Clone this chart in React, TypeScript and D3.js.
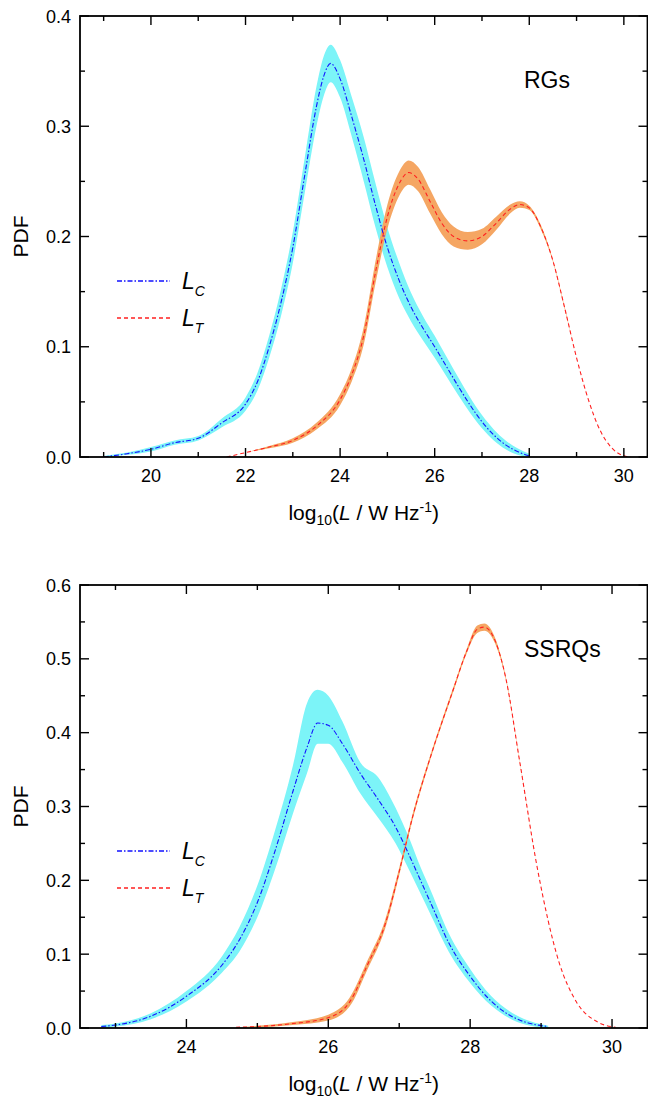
import React from "react";
import * as d3 from "d3";

// ---------- Top panel (RGs) ----------
const rgLcX = [19.0, 19.5, 20.0, 20.5, 21.0, 21.5, 22.0, 22.25, 22.5, 22.75, 23.0, 23.25, 23.5, 23.65, 23.8, 24.0, 24.25, 24.5, 24.75, 25.0, 25.25, 25.5, 25.75, 26.0, 26.25, 26.5, 26.75, 27.0, 27.25, 27.5, 27.75, 28.0];
const rgLcMid = [0.000, 0.003, 0.007, 0.013, 0.017, 0.031, 0.048, 0.068, 0.100, 0.140, 0.190, 0.255, 0.318, 0.345, 0.357, 0.343, 0.308, 0.270, 0.228, 0.190, 0.160, 0.136, 0.117, 0.100, 0.082, 0.064, 0.047, 0.032, 0.020, 0.011, 0.005, 0.001];
const rgLcHi = [0.001, 0.004, 0.009, 0.015, 0.019, 0.035, 0.054, 0.076, 0.110, 0.152, 0.204, 0.271, 0.336, 0.363, 0.374, 0.360, 0.326, 0.290, 0.248, 0.208, 0.176, 0.149, 0.128, 0.110, 0.091, 0.072, 0.054, 0.038, 0.025, 0.015, 0.008, 0.003];
const rgLcLo = [0.000, 0.002, 0.005, 0.011, 0.015, 0.027, 0.042, 0.060, 0.090, 0.128, 0.176, 0.239, 0.300, 0.327, 0.340, 0.326, 0.290, 0.250, 0.208, 0.172, 0.144, 0.123, 0.106, 0.090, 0.073, 0.056, 0.040, 0.026, 0.015, 0.007, 0.002, 0.000];

const rgLtX = [21.6, 22.0, 22.5, 23.0, 23.5, 24.0, 24.25, 24.5, 24.75, 25.0, 25.25, 25.45, 25.65, 25.9, 26.15, 26.4, 26.7, 27.0, 27.3, 27.6, 27.8, 28.0, 28.25, 28.5, 28.75, 29.0, 29.25, 29.5, 29.75, 30.0, 30.15];
const rgLtMid = [0.000, 0.004, 0.009, 0.015, 0.028, 0.052, 0.075, 0.110, 0.168, 0.218, 0.248, 0.258, 0.252, 0.232, 0.212, 0.200, 0.196, 0.200, 0.212, 0.225, 0.229, 0.226, 0.208, 0.178, 0.135, 0.090, 0.052, 0.024, 0.008, 0.001, 0.000];
const rgLtHi = [0.000, 0.004, 0.010, 0.017, 0.031, 0.057, 0.081, 0.118, 0.178, 0.229, 0.259, 0.269, 0.263, 0.243, 0.222, 0.209, 0.204, 0.207, 0.218, 0.229, 0.232, 0.228, 0.210, 0.179, 0.136, 0.090, 0.052, 0.024, 0.008, 0.001, 0.000];
const rgLtLo = [0.000, 0.004, 0.008, 0.013, 0.025, 0.047, 0.069, 0.102, 0.158, 0.207, 0.237, 0.247, 0.241, 0.221, 0.202, 0.191, 0.188, 0.193, 0.206, 0.221, 0.226, 0.224, 0.206, 0.177, 0.134, 0.090, 0.052, 0.024, 0.008, 0.001, 0.000];

// ---------- Bottom panel (SSRQs) ----------
const sqLcX = [22.8, 23.0, 23.5, 24.0, 24.5, 24.75, 25.0, 25.25, 25.5, 25.7, 25.85, 26.0, 26.2, 26.45, 26.7, 26.95, 27.15, 27.3, 27.45, 27.7, 28.0, 28.3, 28.6, 28.85, 29.1];
const sqLcMid = [0.002, 0.004, 0.016, 0.043, 0.085, 0.120, 0.170, 0.240, 0.320, 0.380, 0.413, 0.410, 0.385, 0.345, 0.310, 0.272, 0.232, 0.200, 0.168, 0.115, 0.070, 0.036, 0.015, 0.006, 0.002];
const sqLcHi = [0.004, 0.006, 0.020, 0.050, 0.097, 0.137, 0.193, 0.268, 0.355, 0.440, 0.458, 0.450, 0.415, 0.360, 0.340, 0.298, 0.255, 0.218, 0.185, 0.128, 0.080, 0.043, 0.020, 0.009, 0.003];
const sqLcLo = [0.000, 0.002, 0.012, 0.036, 0.075, 0.104, 0.150, 0.215, 0.290, 0.345, 0.385, 0.385, 0.360, 0.318, 0.285, 0.250, 0.212, 0.182, 0.152, 0.103, 0.061, 0.030, 0.011, 0.003, 0.000];

const sqLtX = [24.7, 25.0, 25.5, 26.0, 26.3, 26.55, 26.8, 27.0, 27.2, 27.45, 27.75, 27.95, 28.1, 28.2, 28.35, 28.5, 28.7, 28.95, 29.25, 29.5, 29.8, 30.05];
const sqLtMid = [0.001, 0.002, 0.006, 0.014, 0.035, 0.085, 0.140, 0.212, 0.290, 0.370, 0.455, 0.510, 0.540, 0.543, 0.525, 0.475, 0.360, 0.215, 0.090, 0.035, 0.008, 0.001];
const sqLtHi = [0.001, 0.003, 0.008, 0.018, 0.041, 0.091, 0.146, 0.217, 0.294, 0.373, 0.458, 0.513, 0.545, 0.548, 0.529, 0.477, 0.361, 0.215, 0.090, 0.035, 0.008, 0.001];
const sqLtLo = [0.001, 0.001, 0.004, 0.010, 0.029, 0.079, 0.134, 0.207, 0.286, 0.367, 0.452, 0.507, 0.535, 0.538, 0.521, 0.473, 0.359, 0.215, 0.090, 0.035, 0.008, 0.001];

// ---------- Ticks ----------
const rgXMajor = [20, 22, 24, 26, 28, 30];
const rgXMinor = [19, 21, 23, 25, 27, 29];
const rgYMajor = [0.0, 0.1, 0.2, 0.3, 0.4];
const rgYMinor = [0.05, 0.15, 0.25, 0.35];
const sqXMajor = [24, 26, 28, 30];
const sqXMinor = [23, 25, 27, 29];
const sqYMajor = [0.0, 0.1, 0.2, 0.3, 0.4, 0.5, 0.6];
const sqYMinor = [0.05, 0.15, 0.25, 0.35, 0.45, 0.55];

const FONT = "'Liberation Sans', Arial, Helvetica, sans-serif";
const BLUE = "#1212ff";
const RED = "#ff2020";
const CYAN = "#7cf4f8";
const ORANGE = "#f5a663";
const DASHDOT = "5,2,1.5,2";
const DASH = "4,3";

type Band = { x: number[]; mid: number[]; hi: number[]; lo: number[] };

function Panel(props: {
  xDomain: [number, number];
  yDomain: [number, number];
  top: number;
  bottom: number;
  lc: Band;
  lt: Band;
  xMajor: number[];
  xMinor: number[];
  yMajor: number[];
  yMinor: number[];
  label: string;
  labelY: number;
  legendY: number;
}) {
  const left = 80;
  const right = 647.5;
  const x = d3.scaleLinear().domain(props.xDomain).range([left, right]);
  const y = d3.scaleLinear().domain(props.yDomain).range([props.bottom, props.top]);

  const mkArea = (b: Band) =>
    d3
      .area<number>()
      .x((i) => x(b.x[i]))
      .y0((i) => y(b.lo[i]))
      .y1((i) => y(b.hi[i]))
      .curve(d3.curveMonotoneX)(d3.range(b.x.length)) || "";
  const mkLine = (b: Band) =>
    d3
      .line<number>()
      .x((i) => x(b.x[i]))
      .y((i) => y(b.mid[i]))
      .curve(d3.curveMonotoneX)(d3.range(b.x.length)) || "";

  const MAJ = 9;
  const MIN = 5;
  const tickStroke = { stroke: "#000", strokeWidth: 1.4 };
  const fmtY = d3.format(".1f");

  return (
    <g>
      <defs>
        <clipPath id={"clip" + props.top}>
          <rect x={left} y={props.top} width={right - left} height={props.bottom - props.top} />
        </clipPath>
      </defs>
      <g clipPath={`url(#clip${props.top})`}>
        <path d={mkArea(props.lc)} fill={CYAN} stroke="none" />
        <path d={mkArea(props.lt)} fill={ORANGE} stroke="none" />
        <path d={mkLine(props.lc)} fill="none" stroke={BLUE} strokeWidth={1.1} strokeDasharray={DASHDOT} />
        <path d={mkLine(props.lt)} fill="none" stroke={RED} strokeWidth={1.1} strokeDasharray={DASH} />
      </g>

      {props.xMajor.map((t) => (
        <g key={"xM" + t}>
          <line x1={x(t)} x2={x(t)} y1={props.bottom} y2={props.bottom - MAJ} {...tickStroke} />
          <line x1={x(t)} x2={x(t)} y1={props.top} y2={props.top + MAJ} {...tickStroke} />
          <text x={x(t)} y={props.bottom + 25} textAnchor="middle" fontSize={18} fontFamily={FONT}>
            {t}
          </text>
        </g>
      ))}
      {props.xMinor.map((t) => (
        <g key={"xm" + t}>
          <line x1={x(t)} x2={x(t)} y1={props.bottom} y2={props.bottom - MIN} {...tickStroke} />
          <line x1={x(t)} x2={x(t)} y1={props.top} y2={props.top + MIN} {...tickStroke} />
        </g>
      ))}
      {props.yMajor.map((t) => (
        <g key={"yM" + t}>
          <line x1={left} x2={left + MAJ} y1={y(t)} y2={y(t)} {...tickStroke} />
          <line x1={right} x2={right - MAJ} y1={y(t)} y2={y(t)} {...tickStroke} />
          <text x={71} y={y(t) + 6.5} textAnchor="end" fontSize={18} fontFamily={FONT}>
            {fmtY(t)}
          </text>
        </g>
      ))}
      {props.yMinor.map((t) => (
        <g key={"ym" + t}>
          <line x1={left} x2={left + MIN} y1={y(t)} y2={y(t)} {...tickStroke} />
          <line x1={right} x2={right - MIN} y1={y(t)} y2={y(t)} {...tickStroke} />
        </g>
      ))}

      <rect x={left} y={props.top} width={right - left} height={props.bottom - props.top} fill="none" stroke="#000" strokeWidth={1.8} />

      <text
        transform={`translate(28,${(props.top + props.bottom) / 2}) rotate(-90)`}
        textAnchor="middle"
        fontSize={21}
        fontFamily={FONT}
      >
        PDF
      </text>
      <text x={(left + right) / 2} y={props.bottom + 63} textAnchor="middle" fontSize={21} fontFamily={FONT}>
        log
        <tspan fontSize={14} dy={5}>10</tspan>
        <tspan dy={-5}>(</tspan>
        <tspan fontStyle="italic">L</tspan>
        <tspan> / W Hz</tspan>
        <tspan fontSize={14} dy={-8}>-1</tspan>
        <tspan dy={8}>)</tspan>
      </text>

      <text x={524} y={props.labelY} fontSize={23} fontFamily={FONT}>
        {props.label}
      </text>

      <line x1={117} x2={170} y1={props.legendY} y2={props.legendY} stroke={BLUE} strokeWidth={1.3} strokeDasharray={DASHDOT} />
      <text x={182} y={props.legendY + 8} fontSize={23} fontFamily={FONT} fontStyle="italic">
        L<tspan fontSize={14} dy={7}>C</tspan>
      </text>
      <line x1={117} x2={170} y1={props.legendY + 37} y2={props.legendY + 37} stroke={RED} strokeWidth={1.3} strokeDasharray={DASH} />
      <text x={182} y={props.legendY + 45} fontSize={23} fontFamily={FONT} fontStyle="italic">
        L<tspan fontSize={14} dy={7}>T</tspan>
      </text>
    </g>
  );
}

export default function App() {
  return (
    <svg
      width={648}
      height={1104}
      viewBox="0 0 648 1104"
      style={{ position: "absolute", left: 0, top: 0, background: "#fff" }}
    >
      <rect x={0} y={0} width={648} height={1104} fill="#fff" />
      <Panel
        xDomain={[18.5, 30.5]}
        yDomain={[0, 0.4]}
        top={16}
        bottom={457}
        lc={{ x: rgLcX, mid: rgLcMid, hi: rgLcHi, lo: rgLcLo }}
        lt={{ x: rgLtX, mid: rgLtMid, hi: rgLtHi, lo: rgLtLo }}
        xMajor={rgXMajor}
        xMinor={rgXMinor}
        yMajor={rgYMajor}
        yMinor={rgYMinor}
        label="RGs"
        labelY={88}
        legendY={281}
      />
      <Panel
        xDomain={[22.5, 30.5]}
        yDomain={[0, 0.6]}
        top={585}
        bottom={1028}
        lc={{ x: sqLcX, mid: sqLcMid, hi: sqLcHi, lo: sqLcLo }}
        lt={{ x: sqLtX, mid: sqLtMid, hi: sqLtHi, lo: sqLtLo }}
        xMajor={sqXMajor}
        xMinor={sqXMinor}
        yMajor={sqYMajor}
        yMinor={sqYMinor}
        label="SSRQs"
        labelY={657}
        legendY={851}
      />
    </svg>
  );
}
